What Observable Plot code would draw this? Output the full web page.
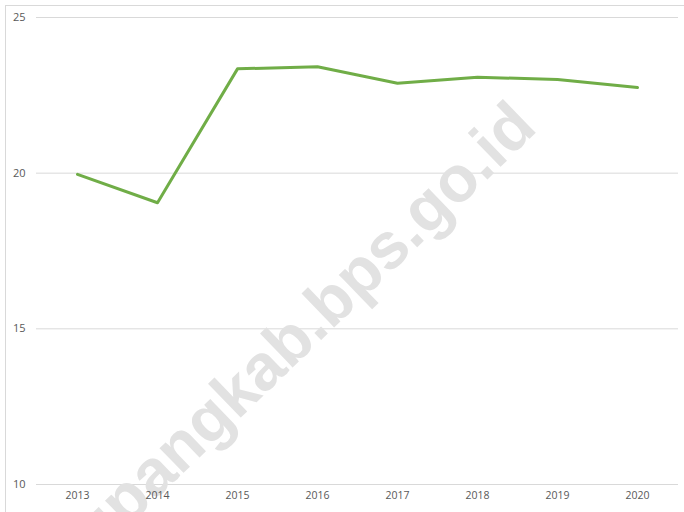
<!DOCTYPE html>
<html>
<head>
<meta charset="utf-8">
<script src="https://cdn.jsdelivr.net/npm/d3@7"></script>
<script src="https://cdn.jsdelivr.net/npm/@observablehq/plot@0.6"></script>
<style>
  html, body { margin: 0; padding: 0; background: #fff; overflow: hidden; }
  #wrap { position: relative; width: 684px; height: 512px; }
  #frame { position: absolute; left: 5px; top: 5px; width: 700px; height: 600px;
           border-left: 1px solid #d9d9d9; border-top: 1px solid #d9d9d9; box-sizing: border-box; pointer-events: none; }
</style>
</head>
<body>
<div id="wrap"><div id="frame"></div></div>
<script>
const years = ["2013", "2014", "2015", "2016", "2017", "2018", "2019", "2020"];
const values = [19.96, 19.05, 23.35, 23.42, 22.89, 23.08, 23.01, 22.75];
const yTicks = [10, 15, 20, 25];
const watermark = "upangkab.bps.go.id";

const data = years.map((year, i) => ({ year, value: values[i] }));

const chart = Plot.plot({
  width: 684,
  height: 512,
  marginLeft: 36,
  marginRight: 6,
  marginTop: 17,
  marginBottom: 28,
  style: { fontFamily: "'Open Sans', sans-serif", fontSize: "11px", color: "#595959", background: "transparent", overflow: "visible" },
  x: { type: "point", domain: years, padding: 0.5, label: null },
  y: { domain: [10, 25], label: null },
  marks: [
    Plot.ruleY(yTicks, { stroke: "#d9d9d9", strokeWidth: 1, strokeOpacity: 1 }),
    Plot.text([watermark], {
      frameAnchor: "middle", text: d => d, rotate: -44,
      dx: -54, dy: 77,
      fontSize: 65, fontWeight: "bold", fontFamily: "'Liberation Sans', Arial, sans-serif",
      fill: "#e2e2e2", textAnchor: "middle", lineAnchor: "middle"
    }),
    Plot.line(data, { x: "year", y: "value", stroke: "#70ad47", strokeWidth: 3, strokeLinejoin: "round", strokeLinecap: "round" }),
    Plot.axisY({ ticks: yTicks, tickSize: 0, tickPadding: 11, fill: "#595959", label: null }),
    Plot.axisX({ tickSize: 0, tickPadding: 7, fill: "#595959", fontSize: 10.5, label: null })
  ]
});
chart.style.position = "absolute";
chart.style.left = "0px";
chart.style.top = "0px";
document.getElementById("wrap").appendChild(chart);
</script>
</body>
</html>
